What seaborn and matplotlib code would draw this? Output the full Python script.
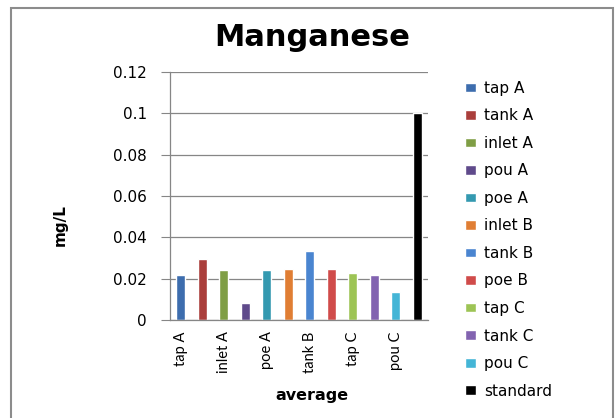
import pandas as pd
import seaborn as sns
import matplotlib.pyplot as plt
from matplotlib.patches import Rectangle
from matplotlib.ticker import FuncFormatter

# %% data
sites = ["tap A", "tank A", "inlet A", "pou A", "poe A", "inlet B",
         "tank B", "poe B", "tap C", "tank C", "pou C", "standard"]
manganese = [0.022, 0.0294, 0.0244, 0.008, 0.0244, 0.0247,
             0.0332, 0.0247, 0.0228, 0.022, 0.0136, 0.1]
colors = ["#3D6DAE", "#AA3E3B", "#7F9E45", "#5F4A8B", "#3499B0", "#E07E34",
          "#4A85D0", "#D04B4A", "#9DC455", "#8263B0", "#44B5D6", "#000000"]

df = pd.DataFrame({"site": sites, "mn": manganese})

# %% plot
sns.set_style("white", {"text.color": "black", "xtick.color": "black",
                        "ytick.color": "black", "axes.labelcolor": "black"})
plt.rcParams["font.family"] = ["DejaVu Sans"]

fig = plt.figure(figsize=(6.15, 4.18), dpi=100)
ax = fig.add_axes([0.2764, 0.2344, 0.4195, 0.5934])

sns.barplot(data=df, x="site", y="mn", hue="site", palette=colors,
            saturation=1, width=0.42, legend=False, ax=ax)

ax.set_ylim(0, 0.12)
ax.set_yticks([0, 0.02, 0.04, 0.06, 0.08, 0.1, 0.12])
ax.yaxis.set_major_formatter(FuncFormatter(lambda v, p: f"{v:g}"))
ax.set_xlim(-0.5, len(sites) - 0.5)
ax.set_xticks(range(0, len(sites), 2))
ax.set_xticklabels(sites[::2], rotation=90, fontsize=10.5, family="Lato")
ax.tick_params(axis="y", labelsize=11, length=6.5, color="#868686",
               labelcolor="black", direction="out", left=True, right=False,
               pad=10)
ax.tick_params(axis="x", length=0, pad=8, labelcolor="black")
ax.yaxis.grid(True, color="#868686", lw=0.9)
ax.set_axisbelow(True)
for s in ["top", "right"]:
    ax.spines[s].set_visible(False)
for s in ["left", "bottom"]:
    ax.spines[s].set_color("#868686")
    ax.spines[s].set_linewidth(0.9)

ax.set_ylabel("mg/L", fontsize=11, fontweight="bold", color="black")
ax.yaxis.set_label_coords(-0.395, 0.383)
ax.set_xlabel("average", fontsize=11.5, fontweight="bold", color="black")
ax.xaxis.set_label_coords(0.55, -0.275)
fig.text(0.507, 0.91, "Manganese", ha="center", va="center",
         fontsize=22, fontweight="bold", color="black")

handles = list(ax.containers)
leg = ax.legend(handles, sites, loc="upper left", bbox_to_anchor=(1.09, 1.02),
                frameon=False, fontsize=11, labelspacing=0.82,
                handlelength=0.75, handleheight=0.6, handletextpad=0.5)
for t in leg.get_texts():
    t.set_color("black")

# chart border
fig.patches.append(Rectangle((0.018, -0.01), 0.978, 0.99,
                             transform=fig.transFigure, fill=False,
                             edgecolor="#8C8C8C", lw=1.5))

fig.savefig("out.png", dpi=100)
